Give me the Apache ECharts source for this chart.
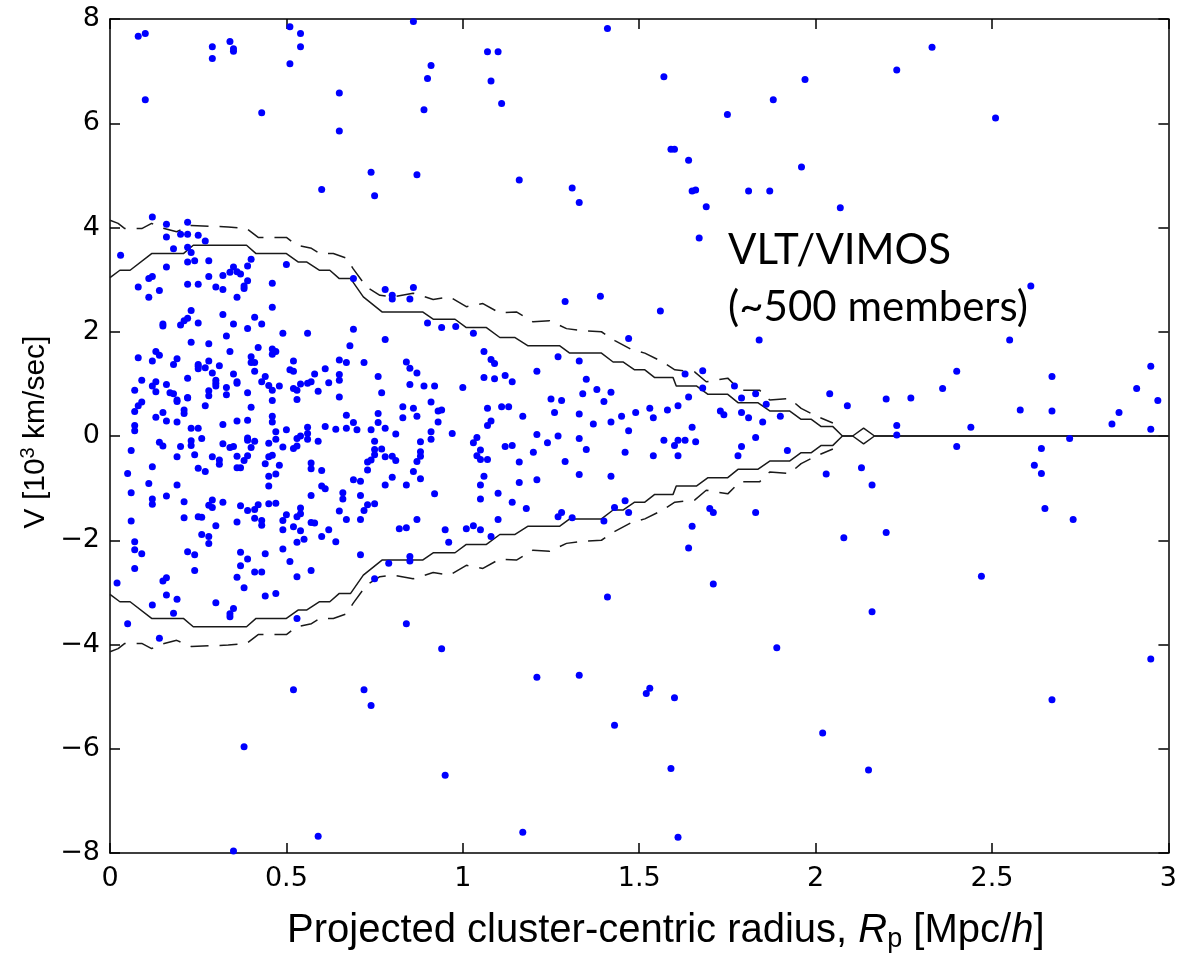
<!DOCTYPE html>
<html>
<head>
<meta charset="utf-8">
<title>Projected phase-space diagram</title>
<script src="https://cdn.jsdelivr.net/npm/echarts@6/dist/echarts.min.js"></script>
<style>
  html, body { margin: 0; padding: 0; background: #fff; }
  #chart { width: 1180px; height: 960px; }
</style>
</head>
<body>
<div id="chart"></div>
<script>
// Axis ranges and ticks
const radiusTicks = [0, 0.5, 1, 1.5, 2, 2.5, 3];
const velocityTicks = [-8, -6, -4, -2, 0, 2, 4, 6, 8];

// Galaxies: [projected radius (Mpc/h), line-of-sight velocity (10^3 km/s)]
const membersUpperCore = [
  [0.12,4.20],[0.16,4.06],[0.22,4.10],[0.16,3.82],[0.20,3.87],[0.22,3.87],[0.25,3.85],[0.27,3.74],[0.18,3.59],[0.22,3.62],
  [0.03,3.47],[0.23,3.52],[0.22,3.34],[0.24,3.36],[0.28,3.36],[0.40,3.39],[0.39,3.26],[0.16,3.24],[0.35,3.24],[0.34,3.14],
  [0.36,3.15],[0.37,3.11],[0.32,3.08],[0.28,3.06],[0.12,3.06],[0.11,3.02],[0.08,2.86],[0.14,2.79],[0.11,2.66],[0.22,2.91],
  [0.25,2.91],[0.30,2.86],[0.32,2.81],[0.38,2.88],[0.39,2.98],[0.38,2.83],[0.36,2.66],[0.46,2.93],[0.50,3.29],[0.69,3.02],
  [0.78,2.81],[0.80,2.70],[0.80,2.63],[0.86,2.85],[0.85,2.63],[0.46,2.47],[0.23,2.41],[0.22,2.26],[0.21,2.21],[0.20,2.13],
  [0.15,2.15],[0.15,2.11],[0.25,2.17],[0.32,2.33],[0.41,2.28],[0.43,2.15],[0.35,2.15],[0.33,1.92],[0.39,2.06],[0.49,1.97],
  [0.56,1.97],[0.69,2.05],[0.68,1.73],[0.78,1.85],[0.90,2.17],[0.94,2.08],[0.98,2.10],[1.03,1.97],[1.06,1.62],[1.08,1.47],
  [1.09,1.39],[1.06,1.12],[1.09,1.10],[1.07,0.53],[1.08,0.29],[1.07,0.20]
];

const membersMidCore = [
  [0.23,1.80],[0.28,1.77],[0.34,1.62],[0.42,1.70],[0.46,1.67],[0.47,1.62],[0.46,1.57],[0.40,1.52],[0.40,1.41],[0.41,1.41],
  [0.13,1.62],[0.14,1.55],[0.08,1.50],[0.12,1.44],[0.19,1.48],[0.18,1.37],[0.25,1.37],[0.25,1.34],[0.25,1.29],[0.27,1.31],
  [0.28,1.44],[0.31,1.35],[0.29,1.21],[0.30,1.07],[0.30,1.01],[0.30,0.96],[0.28,0.87],[0.28,0.77],[0.33,0.93],[0.33,0.79],
  [0.36,1.01],[0.36,1.04],[0.35,1.19],[0.39,0.83],[0.40,0.55],[0.41,1.24],[0.43,1.04],[0.44,1.14],[0.45,0.97],[0.46,0.88],
  [0.48,0.96],[0.52,1.44],[0.51,1.27],[0.52,1.24],[0.52,0.91],[0.53,0.88],[0.54,1.00],[0.53,0.70],[0.56,1.01],[0.57,1.04],
  [0.59,0.86],[0.58,1.19],[0.61,1.29],[0.62,1.02],[0.65,1.07],[0.65,1.46],[0.67,1.41],[0.65,1.18],[0.65,0.75],[0.72,1.41],
  [0.76,1.14],[0.77,0.83],[0.84,1.42],[0.85,1.30],[0.87,1.21],[0.85,0.99],[0.89,0.96],[0.92,0.96],[1.00,0.93],[0.91,0.65],
  [0.93,0.48],[0.94,0.50],[0.93,0.27],[0.91,0.08],[0.91,-0.06],[0.83,0.56],[0.86,0.53],[0.87,0.38],[0.83,0.35],[0.78,0.15],
  [0.81,0.04],[0.76,0.43],[0.76,0.26],[0.74,0.12],[0.70,0.12],[0.69,0.26],[0.67,0.40],[0.67,0.15],[0.64,0.13],[0.61,0.18],
  [0.56,0.17],[0.56,0.05],[0.59,-0.10],[0.56,-0.06],[0.54,0.00],[0.53,-0.05],[0.53,-0.19],[0.52,-0.24],[0.49,-0.21],[0.50,0.12],
  [0.47,0.08],[0.46,0.27],[0.46,0.38],[0.46,0.68],[0.45,-0.14],[0.47,-0.06],[0.39,0.30],[0.36,0.29],[0.32,0.22],[0.27,0.58],
  [0.22,0.74],[0.19,0.66],[0.21,0.50],[0.21,0.43],[0.19,0.27],[0.16,0.29],[0.15,0.45],[0.13,0.36],[0.09,1.07],[0.07,0.88],
  [0.13,1.04],[0.12,0.96],[0.13,0.85],[0.16,0.99],[0.17,0.83],[0.18,0.81],[0.19,0.69],[0.22,1.11],[0.22,0.73],[0.09,0.65],
  [0.08,0.58],[0.07,0.47],[0.07,0.20],[0.07,0.10],[0.06,-0.28],[0.05,-0.72],[0.06,-1.09],[0.11,-0.91],[0.12,-1.21],[0.12,-1.31],
  [0.16,-1.15],[0.12,-0.59],[0.15,-0.19],[0.14,-0.12],[0.19,-0.94],[0.19,-0.40],[0.20,-0.20],[0.23,-0.09],[0.23,-0.18],[0.24,-0.36],
  [0.23,0.15],[0.25,0.15],[0.26,-0.05],[0.29,-0.40],[0.31,-0.46],[0.31,-0.54],[0.32,-0.15],[0.34,-0.22],[0.35,-0.20],[0.36,-0.39],
  [0.39,-0.04],[0.39,-0.08],[0.41,-0.10],[0.40,-0.22],[0.39,-0.38],[0.38,-0.47],[0.37,-0.61],[0.36,-0.61],[0.27,-0.68],[0.25,-0.62],
  [0.21,-1.26],[0.21,-1.57],[0.25,-1.55],[0.26,-1.56],[0.28,-1.33],[0.26,-1.89],[0.28,-1.93],[0.28,-2.06],[0.29,-1.23],[0.29,-1.37],
  [0.30,-1.72],[0.32,-1.27],[0.36,-1.65],[0.37,-1.34],[0.39,-1.43],[0.41,-1.41],[0.42,-1.32],[0.41,-1.58],[0.43,-1.62],[0.43,-1.71],
  [0.44,-2.26],[0.45,-1.30],[0.47,-1.29],[0.47,-0.73],[0.48,-0.56],[0.44,-0.53],[0.45,-0.77],[0.45,-0.96],[0.45,-0.40],[0.46,-0.37],
  [0.49,-2.17],[0.49,-1.80],[0.49,-1.62],[0.50,-1.51],[0.52,-1.74],[0.53,-1.55],[0.54,-1.49],[0.54,-1.38],[0.54,-1.82],[0.53,-2.04],
  [0.55,-1.98],[0.57,-1.14],[0.57,-0.52],[0.57,-0.63],[0.60,-0.66],[0.60,-0.96],[0.61,-1.01],[0.60,-1.93],[0.62,-1.80],[0.57,-1.66],
  [0.58,-1.67],[0.64,-2.03],[0.65,-1.44],[0.66,-1.21],[0.66,-1.09],[0.67,-1.60],[0.69,-0.84],[0.71,-0.87],[0.71,-1.14],[0.71,-1.60],
  [0.73,-1.32],[0.72,-1.43],[0.75,-1.30],[0.74,-0.46],[0.73,-0.50],[0.73,-0.65],[0.75,-0.36],[0.75,-0.26],[0.77,-0.25],[0.78,-0.40],
  [0.80,-0.39],[0.75,-0.10],[0.80,-0.79],[0.78,-0.94],[0.81,-0.47],[0.84,-0.94],[0.86,-0.68],[0.88,-0.82],[0.87,-0.49],[0.88,-0.39],
  [0.88,-0.30],[0.88,-0.11],[0.92,-1.11],[0.82,-1.78],[0.84,-1.76],[0.87,-1.60],[0.95,-1.80],[0.96,-2.04],[1.01,-1.78],[1.03,-1.72],
  [1.05,-1.80],[1.08,-1.93],[1.03,-0.13],[1.04,-0.03],[1.05,-0.27],[1.04,-0.38],[1.05,-0.45],[1.07,-0.45],[1.06,-0.77],[1.05,-0.94],
  [1.05,-1.21],[1.10,-1.10],[1.10,-1.60],[0.97,0.05]
];

const membersLowerCore = [
  [0.06,-1.63],[0.07,-2.03],[0.07,-2.18],[0.09,-2.26],[0.07,-2.54],[0.02,-2.82],[0.22,-2.22],[0.24,-2.28],[0.24,-2.58],[0.16,-2.72],
  [0.15,-2.78],[0.16,-3.05],[0.19,-3.13],[0.12,-3.24],[0.18,-3.40],[0.30,-3.20],[0.35,-3.31],[0.34,-3.41],[0.34,-3.47],[0.37,-2.23],
  [0.37,-2.49],[0.39,-2.36],[0.41,-2.61],[0.43,-2.61],[0.36,-2.71],[0.38,-2.91],[0.44,-3.07],[0.47,-3.02],[0.51,-2.41],[0.53,-2.70],
  [0.57,-2.58],[0.53,-3.50],[0.71,-2.28],[0.75,-2.74],[0.79,-2.44],[0.85,-2.31],[0.85,-2.40],[0.84,-3.60],[0.05,-3.60],[0.14,-3.88]
];

const membersOuter = [
  [1.29,2.58],[1.39,2.68],[1.56,2.40],[1.47,1.87],[1.84,1.84],[1.27,1.52],[1.33,1.44],[1.21,1.24],[1.12,1.16],[1.14,1.04],
  [1.35,1.09],[1.38,0.89],[1.42,0.84],[1.34,0.81],[1.40,0.66],[1.25,0.71],[1.28,0.68],[1.11,0.56],[1.13,0.56],[1.26,0.45],
  [1.33,0.42],[1.17,0.38],[1.37,0.23],[1.42,0.27],[1.45,0.38],[1.49,0.45],[1.53,0.53],[1.54,0.35],[1.58,0.50],[1.61,0.58],
  [1.65,0.17],[1.47,0.10],[1.63,1.19],[1.68,1.25],[1.68,0.92],[1.64,0.75],[1.77,0.96],[1.79,0.73],[1.83,0.81],[1.86,0.61],
  [1.73,0.48],[1.74,0.41],[1.79,0.45],[1.81,0.35],[1.85,0.27],[1.90,0.38],[2.04,0.81],[2.09,0.58],[2.20,0.71],[2.23,0.20],
  [2.23,0.02],[1.21,0.03],[1.24,-0.13],[1.27,0.00],[1.33,-0.05],[1.12,-0.20],[1.14,-0.18],[1.20,-0.31],[1.35,-0.26],[1.29,-0.49],
  [1.16,-0.50],[1.16,-0.89],[1.21,-0.84],[1.33,-0.74],[1.42,-0.77],[1.46,-0.31],[1.54,-0.38],[1.57,-0.08],[1.60,-0.18],[1.61,-0.08],
  [1.63,-0.08],[1.66,-0.11],[1.61,-0.38],[1.78,-0.38],[1.79,-0.20],[1.83,-0.03],[1.92,-0.28],[1.14,-1.27],[1.18,-1.39],[1.27,-1.55],
  [1.28,-1.47],[1.31,-1.57],[1.40,-1.63],[1.43,-1.37],[1.46,-1.24],[1.47,-1.47],[1.65,-1.73],[1.64,-2.15],[1.70,-1.39],[1.71,-1.47],
  [1.83,-1.47],[1.71,-2.84],[1.41,-3.09],[2.03,-0.73],[2.13,-0.61],[2.16,-0.94],[2.08,-1.95],[2.20,-1.85],
  [2.61,2.88],[2.55,1.84],[2.40,1.24],[2.36,0.91],[2.27,0.73],[2.44,0.17],[2.58,0.50],[2.67,1.14],[2.67,0.48],[2.72,-0.05],
  [2.40,-0.20],[2.64,-0.24],[2.62,-0.56],[2.64,-0.72],[2.65,-1.39],[2.73,-1.60],[2.47,-2.69],[2.84,0.23],[2.86,0.45],[2.91,0.91],
  [2.95,1.34],[2.97,0.68],[2.95,0.13]
];

const interlopersHigh = [
  [0.08,7.67],[0.10,7.72],[0.10,6.45],[0.29,7.47],[0.29,7.24],[0.34,7.57],[0.35,7.43],[0.35,7.38],[0.43,6.20],[0.51,7.85],
  [0.54,7.72],[0.54,7.47],[0.51,7.14],[0.65,6.58],[0.65,5.85],[0.74,5.06],[0.75,4.61],[0.60,4.73],
  [0.86,7.95],[1.41,7.82],[1.07,7.37],[1.10,7.37],[0.91,7.11],[0.90,6.86],[1.08,6.81],[0.89,6.26],[1.11,6.38],[1.57,6.89],
  [1.75,6.17],[1.88,6.45],[1.59,5.50],[1.60,5.50],[1.64,5.29],[0.87,5.01],[1.16,4.91],[1.31,4.76],[1.33,4.48],[1.65,4.70],
  [1.66,4.72],[1.69,4.40],[1.67,3.80],[1.81,4.70],[1.87,4.70],[1.96,5.16],
  [2.33,7.46],[2.23,7.02],[1.97,6.84],[2.51,6.10],[2.07,4.38]
];

const interlopersLow = [
  [0.94,-4.08],[1.21,-4.63],[0.52,-4.87],[0.72,-4.87],[0.74,-5.17],[0.38,-5.96],[0.95,-6.51],[0.59,-7.68],[1.17,-7.60],[0.35,-7.96],
  [1.33,-4.59],[1.89,-4.06],[2.16,-3.37],[1.53,-4.84],[1.52,-4.94],[1.60,-5.02],[1.43,-5.55],[2.02,-5.70],[1.59,-6.38],[2.15,-6.41],
  [1.61,-7.70],[2.67,-5.06],[2.95,-4.28]
];

// Caustic amplitude (solid) sampled along radius
const causticR = [0,0.028,0.057,0.118,0.208,0.236,0.387,0.414,0.50,0.533,0.557,0.593,0.623,0.650,0.682,0.718,0.771,0.886,0.916,0.978,
  1.010,1.067,1.105,1.147,1.185,1.275,1.303,1.393,1.426,1.454,1.487,1.516,1.544,1.596,1.605,1.662,1.695,1.751,1.780,1.836,
  1.870,1.926,1.959,1.988,2.016,2.049,2.076,2.105,2.136,2.167,3.0];
const causticUpper = [3.04,3.18,3.18,3.50,3.50,3.66,3.66,3.50,3.50,3.34,3.34,3.18,3.18,3.02,3.02,2.67,2.38,2.38,2.24,2.24,
  2.08,2.08,1.89,1.89,1.73,1.73,1.59,1.59,1.42,1.42,1.27,1.27,1.12,1.12,0.96,0.96,0.80,0.80,0.64,0.64,
  0.48,0.48,0.32,0.32,0.18,0.18,0,0,0.15,0,0];
const causticLower = [-3.04,-3.18,-3.18,-3.50,-3.50,-3.66,-3.66,-3.50,-3.50,-3.34,-3.34,-3.18,-3.18,-3.02,-3.02,-2.67,-2.38,-2.38,-2.24,-2.24,
  -2.08,-2.08,-1.89,-1.89,-1.73,-1.73,-1.59,-1.59,-1.42,-1.42,-1.27,-1.27,-1.12,-1.12,-0.96,-0.96,-0.80,-0.80,-0.64,-0.64,
  -0.48,-0.48,-0.32,-0.32,-0.18,-0.18,0,0,-0.15,0,0];

// Caustic uncertainty envelope (dashed)
const envelopeR = [0,0.023,0.042,0.090,0.118,0.137,0.189,0.231,0.335,0.387,0.420,0.500,0.529,0.571,0.595,0.633,0.671,0.689,0.727,0.765,
  0.803,0.859,0.916,0.963,1.010,1.057,1.105,1.152,1.199,1.246,1.294,1.341,1.393,1.431,1.478,1.516,1.567,1.601,1.657,1.690,
  1.751,1.785,1.841,1.870,1.926,1.959,2.006,2.049];
const envelopeUpper = [4.14,4.08,3.98,3.98,4.08,4.01,3.92,4.04,4.01,3.98,3.81,3.81,3.66,3.60,3.50,3.50,3.41,3.21,2.86,2.70,
  2.67,2.74,2.62,2.67,2.48,2.54,2.36,2.38,2.19,2.21,2.06,2.02,2.00,1.83,1.66,1.59,1.42,1.27,1.23,1.04,
  1.11,0.88,0.88,0.69,0.72,0.53,0.37,0.25];
const envelopeLower = [-4.14,-4.08,-3.98,-3.98,-4.08,-4.01,-3.92,-4.04,-4.01,-3.98,-3.81,-3.81,-3.66,-3.60,-3.50,-3.50,-3.41,-3.21,-2.86,-2.70,
  -2.67,-2.74,-2.62,-2.67,-2.48,-2.54,-2.36,-2.38,-2.19,-2.21,-2.06,-2.02,-2.00,-1.83,-1.66,-1.59,-1.42,-1.27,-1.23,-1.04,
  -1.11,-0.88,-0.88,-0.69,-0.72,-0.53,-0.37,-0.25];

const pairUp = (xs, ys) => xs.map((x, i) => [x, ys[i]]);
const galaxies = [].concat(membersUpperCore, membersMidCore, membersLowerCore, membersOuter, interlopersHigh, interlopersLow);

const INK = '#000';
const TICK_FONT = 'DejaVu Sans';
const frameLine = { lineStyle: { color: INK, width: 1.5 } };
const innerTick = { inside: true, length: 10, lineStyle: { color: INK, width: 1.5 } };

const fmtRadius = v => String(v);
const fmtVelocity = v => (v < 0 ? '\u2212' + Math.abs(v) : String(v));

const chart = echarts.init(document.getElementById('chart'), null, { renderer: 'canvas' });

const option = {
  animation: false,
  backgroundColor: '#fff',
  grid: { left: 110, right: 11, top: 19, bottom: 107, show: false },
  xAxis: [
    {
      type: 'value', min: radiusTicks[0], max: radiusTicks[radiusTicks.length - 1], interval: 0.5,
      position: 'bottom',
      axisLine: Object.assign({ show: true, onZero: false }, frameLine),
      axisTick: innerTick,
      splitLine: { show: false },
      axisLabel: { color: INK, fontFamily: TICK_FONT, fontSize: 27, margin: 12, formatter: fmtRadius }
    },
    {
      type: 'value', min: radiusTicks[0], max: radiusTicks[radiusTicks.length - 1], interval: 0.5,
      position: 'top',
      axisLine: Object.assign({ show: true, onZero: false }, frameLine),
      axisTick: innerTick,
      splitLine: { show: false },
      axisLabel: { show: false }
    }
  ],
  yAxis: [
    {
      type: 'value', min: velocityTicks[0], max: velocityTicks[velocityTicks.length - 1], interval: 2,
      position: 'left',
      axisLine: Object.assign({ show: true, onZero: false }, frameLine),
      axisTick: innerTick,
      splitLine: { show: false },
      axisLabel: { color: INK, fontFamily: TICK_FONT, fontSize: 27, margin: 10, formatter: fmtVelocity }
    },
    {
      type: 'value', min: velocityTicks[0], max: velocityTicks[velocityTicks.length - 1], interval: 2,
      position: 'right',
      axisLine: Object.assign({ show: true, onZero: false }, frameLine),
      axisTick: innerTick,
      splitLine: { show: false },
      axisLabel: { show: false }
    }
  ],
  graphic: [
    {
      type: 'text', x: 287, y: 909, silent: true,
      style: {
        text: '{a|Projected cluster-centric radius, }{i|R}{s|p}{a| [Mpc/}{i|h}{a|]}',
        fill: INK,
        rich: {
          a: { fontFamily: 'Liberation Sans', fontSize: 40, lineHeight: 44, fill: INK, verticalAlign: 'middle' },
          i: { fontFamily: 'Liberation Sans', fontStyle: 'italic', fontSize: 40, lineHeight: 44, fill: INK, verticalAlign: 'middle' },
          s: { fontFamily: 'Liberation Sans', fontSize: 27, lineHeight: 18, fill: INK, verticalAlign: 'bottom' }
        }
      }
    },
    {
      type: 'text', x: 36, y: 432, rotation: Math.PI / 2, silent: true,
      style: {
        text: '{a|V [10}{u|3}{a| km/sec]}',
        align: 'center', verticalAlign: 'middle', fill: INK,
        rich: {
          a: { fontFamily: 'Liberation Sans', fontSize: 30, lineHeight: 36, fill: INK, verticalAlign: 'middle' },
          u: { fontFamily: 'Liberation Sans', fontSize: 20, lineHeight: 20, fill: INK, verticalAlign: 'top' }
        }
      }
    },
    {
      type: 'text', x: 728, y: 222, silent: true,
      style: {
        text: 'VLT/VIMOS\n(~500 members)',
        fontFamily: 'Lato', fontSize: 42, lineHeight: 57, fill: INK
      }
    }
  ],
  series: [
    {
      name: 'caustic (upper)', type: 'line', xAxisIndex: 0, yAxisIndex: 0,
      data: pairUp(causticR, causticUpper), symbol: 'none', silent: true,
      lineStyle: { color: '#1a1a1a', width: 1.5 }, z: 3
    },
    {
      name: 'caustic (lower)', type: 'line', xAxisIndex: 0, yAxisIndex: 0,
      data: pairUp(causticR, causticLower), symbol: 'none', silent: true,
      lineStyle: { color: '#1a1a1a', width: 1.5 }, z: 3
    },
    {
      name: 'envelope (upper)', type: 'line', xAxisIndex: 0, yAxisIndex: 0,
      data: pairUp(envelopeR, envelopeUpper), symbol: 'none', silent: true,
      lineStyle: { color: '#1a1a1a', width: 1.5, type: [18, 11] }, z: 3
    },
    {
      name: 'envelope (lower)', type: 'line', xAxisIndex: 0, yAxisIndex: 0,
      data: pairUp(envelopeR, envelopeLower), symbol: 'none', silent: true,
      lineStyle: { color: '#1a1a1a', width: 1.5, type: [18, 11] }, z: 3
    },
    {
      name: 'galaxies', type: 'scatter', xAxisIndex: 0, yAxisIndex: 0,
      data: galaxies, symbol: 'circle', symbolSize: 7, silent: true,
      itemStyle: { color: '#0000ff', opacity: 1 }, z: 4
    }
  ]
};

chart.setOption(option);
</script>
</body>
</html>
